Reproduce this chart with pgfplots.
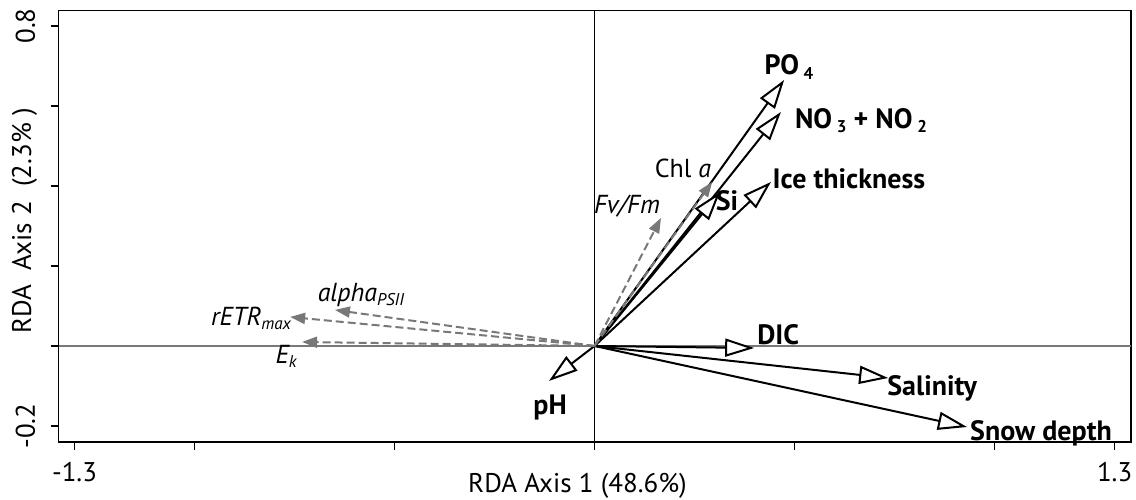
\documentclass[border=0pt]{standalone}
\usepackage{fontspec}
\setmainfont{PT Sans}
\usepackage{pgfplots}
\pgfplotsset{compat=1.18}
\usetikzlibrary{arrows.meta}
\definecolor{arrgray}{RGB}{120,120,120}
\newcommand{\sub}[1]{\raisebox{-0.3ex}{\fontsize{17}{17}\selectfont #1}}
\begin{document}
\begin{tikzpicture}
\begin{axis}[
 at={(58.7pt,57pt)}, anchor=south west,
 scale only axis, width=1072.3pt, height=431.7pt,
 xmin=-1.3395, xmax=1.341, ymin=-0.24, ymax=0.839,
 axis line style={line width=1.5pt},
 tick style={line width=1.5pt, black},
 major tick length=8pt,
 tick align=outside, xtick pos=bottom, ytick pos=left,
 xtick={-1.3,-1,-0.5,0,0.5,1,1.3}, xticklabels={-1.3,,,,,,1.3},
 ytick={-0.2,0,0.2,0.4,0.6,0.8}, yticklabels={-0.2,,,,,0.8},
 ticklabel style={font=\fontsize{27}{30}\selectfont},
 xticklabel shift=9pt, yticklabel shift=12pt,
 yticklabel style={rotate=90, anchor=south},
 xlabel={RDA Axis 1 (48.6\%)}, ylabel={RDA\ \ Axis 2\ \ (2.3\%\ )},
 label style={font=\fontsize{27}{30}\selectfont},
 xlabel style={at={(axis description cs:0.4838,-0.102)}, anchor=center},
 ylabel style={at={(axis description cs:-0.0319,0.512)}, anchor=center},
 clip=false,
]
% zero lines
\addplot[color=arrgray, line width=1.5pt] coordinates {(-1.3395,0) (1.341,0)};
\addplot[black, line width=1pt] coordinates {(0,-0.24) (0,0.839)};
% environmental vectors (black, open heads)
\pgfplotsset{envarrow/.style={black, line width=2pt, -{Triangle[length=29pt,width=18pt,fill=white]}}}
\addplot[envarrow] coordinates {(0,0) (0.474,0.665)};   % PO4
\addplot[envarrow] coordinates {(0,0) (0.466,0.585)};   % NO3+NO2
\addplot[envarrow] coordinates {(0,0) (0.441,0.41)};    % Ice thickness
\addplot[envarrow] coordinates {(0,0) (0.314,0.385)};   % Si
\addplot[envarrow] coordinates {(0,0) (0.399,-0.005)};  % DIC
\addplot[envarrow] coordinates {(0,0) (0.734,-0.08)};   % Salinity
\addplot[envarrow] coordinates {(0,0) (0.931,-0.2025)}; % Snow depth
\addplot[envarrow] coordinates {(0,0) (-0.114,-0.0875)};% pH
% response vectors (gray dashed)
\pgfplotsset{resarrow/.style={arrgray, line width=2pt, dash pattern=on 8pt off 4pt, -{Triangle[length=15pt,width=11pt]}}}
\addplot[resarrow] coordinates {(0,0) (0.294,0.41)};    % Chl a
\addplot[resarrow] coordinates {(0,0) (0.166,0.32)};    % Fv/Fm
\addplot[resarrow] coordinates {(0,0) (-0.649,0.09)};   % alpha
\addplot[resarrow] coordinates {(0,0) (-0.761,0.0725)}; % rETRmax
\addplot[resarrow] coordinates {(0,0) (-0.731,0.01)};   % Ek
% labels
\tikzset{bl/.style={font=\bfseries\fontsize{28}{30}\selectfont, inner sep=0pt},
         il/.style={font=\fontsize{26}{30}\selectfont, inner sep=0pt}}
\node[bl] at (axis cs:0.486,0.6975) {PO\,\sub{4}};
\node[bl] at (axis cs:0.666,0.5625) {NO\,\sub{3} + NO\,\sub{2}};
\node[bl] at (axis cs:0.636,0.4175) {Ice thickness};
\node[bl] at (axis cs:0.331,0.3625) {Si};
\node[bl] at (axis cs:0.459,0.0275) {DIC};
\node[bl] at (axis cs:0.844,-0.105) {Salinity};
\node[bl] at (axis cs:1.116,-0.2175) {Snow depth};
\node[bl] at (axis cs:-0.111,-0.155) {pH};
\node[il] at (axis cs:0.221,0.445) {Chl \textit{a}};
\node[il] at (axis cs:0.081,0.35) {\textit{Fv/Fm}};
\node[il] at (axis cs:-0.584,0.1275) {\textit{alpha\sub{PSII}}};
\node[il] at (axis cs:-0.859,0.07) {\textit{rETR\sub{max}}};
\node[il] at (axis cs:-0.771,-0.025) {\textit{E\sub{k}}};
\end{axis}
\pgfresetboundingbox
\path[use as bounding box] (0,0) rectangle (1136pt,499pt);
\end{tikzpicture}
\end{document}
